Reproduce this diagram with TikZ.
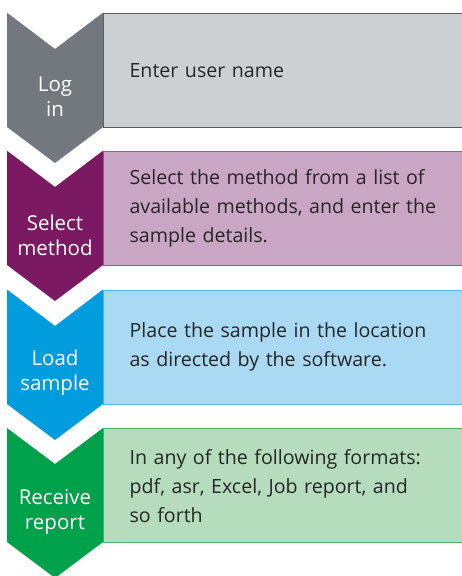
\documentclass[tikz,border=0pt]{standalone}
\usepackage{fontspec}
\setmainfont{Open Sans}
\definecolor{loggray}{HTML}{72787E}
\definecolor{logbox}{HTML}{CDD0D3}
\definecolor{logline}{HTML}{5A5C5E}
\definecolor{selpurple}{HTML}{7B1A62}
\definecolor{selbox}{HTML}{C8A6C4}
\definecolor{selline}{HTML}{9C5C92}
\definecolor{loadblue}{HTML}{009CDE}
\definecolor{loadbox}{HTML}{A9D9F3}
\definecolor{loadline}{HTML}{53B9E9}
\definecolor{recgreen}{HTML}{00A14B}
\definecolor{recbox}{HTML}{B5DCBD}
\definecolor{recline}{HTML}{4CB46E}
\tikzset{
  stepbox/.style={draw, line width=1.2pt, rectangle, anchor=north west,
    minimum width=367pt, minimum height=114pt, inner xsep=26pt,
    text width=315pt, align=left, text=black!85,
    font=\fontsize{19.6}{29}\selectfont},
  steplabel/.style={text=white, align=center, inner sep=0pt,
    font=\fontsize{20.5}{25}\selectfont}
}
\begin{document}
\begin{tikzpicture}[x=1pt, y=-1pt]
  \useasboundingbox (0,0) rectangle (462,576);
  % log in
  \node[stepbox, fill=logbox, draw=logline] (box1) at (103,12.7) {Enter user name};
  \fill[loggray] (7,12.7) -- (55,49) -- (103,12.7) -- (103,127) -- (55,163) -- (7,127) -- cycle;
  \node[steplabel] (lab1) at (55,97) {Log\\in};
  % select method
  \node[stepbox, fill=selbox, draw=selline] (box2) at (103,150.7) {Select the method from a list of\\available methods, and enter the\\sample details.};
  \fill[selpurple] (7,150.7) -- (55,187) -- (103,150.7) -- (103,265) -- (55,301) -- (7,265) -- cycle;
  \node[steplabel] (lab2) at (55,235) {Select\\method};
  % load sample
  \node[stepbox, fill=loadbox, draw=loadline] (box3) at (103,289.5) {Place the sample in the location\\as directed by the software.};
  \fill[loadblue] (7,289.5) -- (55,326) -- (103,289.5) -- (103,404) -- (55,440) -- (7,404) -- cycle;
  \node[steplabel] (lab3) at (55,373) {Load\\sample};
  % receive report
  \node[stepbox, fill=recbox, draw=recline] (box4) at (103,428) {In any of the following formats:\\pdf, asr, Excel, Job report, and\\so forth};
  \fill[recgreen] (7,428) -- (55,464) -- (103,428) -- (103,542) -- (55,578) -- (7,542) -- cycle;
  \node[steplabel] (lab4) at (55,512) {Receive\\report};
\end{tikzpicture}
\end{document}
